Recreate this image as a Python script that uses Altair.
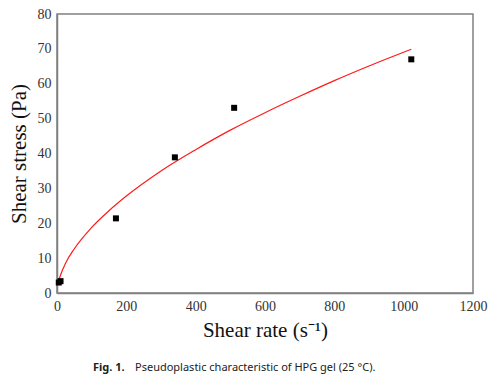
import altair as alt
import pandas as pd

# Measured points (shear rate s^-1, shear stress Pa)
rate_pts = [5.1, 10.2, 170, 340, 511, 1022]
stress_pts = [3.0, 3.4, 21.4, 38.9, 53.1, 67.0]

# Fitted curve
rate_curve = [5, 10, 25, 50, 100, 150, 200, 300, 400, 500, 600, 700, 800, 900, 1022]
stress_curve = [3.5, 5.1, 8.6, 12.7, 18.8, 23.6, 27.8, 35.0, 41.1, 46.7, 51.7, 56.4, 60.9, 65.1, 69.9]

x_ticks = [0, 200, 400, 600, 800, 1000, 1200]
y_ticks = [0, 10, 20, 30, 40, 50, 60, 70, 80]

caption_bold = "Fig. 1."
caption_text = "Pseudoplastic characteristic of HPG gel (25 °C)."

pts = pd.DataFrame({"rate": rate_pts, "stress": stress_pts, "kind": "pt"})
curve = pd.DataFrame({"rate": rate_curve, "stress": stress_curve, "kind": "fit"})

xscale = alt.Scale(domain=[0, 1200], nice=False)
yscale = alt.Scale(domain=[0, 80], nice=False)

xaxis = alt.Axis(values=x_ticks, title="Shear rate (s⁻¹)", labelPadding=6, titlePadding=6, format="d")
yaxis = alt.Axis(values=y_ticks, title="Shear stress (Pa)", labelPadding=6, titlePadding=8, format="d")

base = alt.Chart().encode(
    x=alt.X("rate:Q", scale=xscale, axis=xaxis),
    y=alt.Y("stress:Q", scale=yscale, axis=yaxis),
)

line = base.mark_line(color="#ff1a1a", strokeWidth=1.2, interpolate="monotone").properties(data=curve)
points = base.mark_square(color="black", size=36, opacity=1).properties(data=pts)

cap_df = pd.DataFrame({"a": [caption_bold], "b": [caption_text]})
cap1 = alt.Chart(cap_df).mark_text(font="Noto Sans", fontSize=11, fontWeight="bold",
                                   align="left", baseline="middle", color="#222").encode(
    x=alt.value(36), y=alt.value(354), text="a:N")
cap2 = alt.Chart(cap_df).mark_text(font="Noto Sans", fontSize=11,
                                   align="left", baseline="middle", color="#222").encode(
    x=alt.value(78), y=alt.value(354), text="b:N")

chart = alt.layer(line, points, cap1, cap2).properties(
    width=416, height=279,
    autosize=alt.AutoSizeParams(type="none"),
    padding={"left": 49, "top": 6, "right": 19, "bottom": 88},
).configure(
    style={"guide-label": {"font": "Liberation Serif", "fontSize": 14, "fill": "#333"}}
).configure_view(
    stroke="#808080", strokeWidth=1.5
).configure_axis(
    grid=False, ticks=False, labelOverlap=False, labelFlush=False,
    labelFont="Liberation Serif", labelFontSize=14, labelColor="#333",
    titleFont="Liberation Serif", titleFontSize=21, titleFontWeight="normal",
    titleColor="#111", domainColor="#808080", domainWidth=1.5,
)

chart.save("out.html", embed_options={"renderer": "svg", "actions": False})
